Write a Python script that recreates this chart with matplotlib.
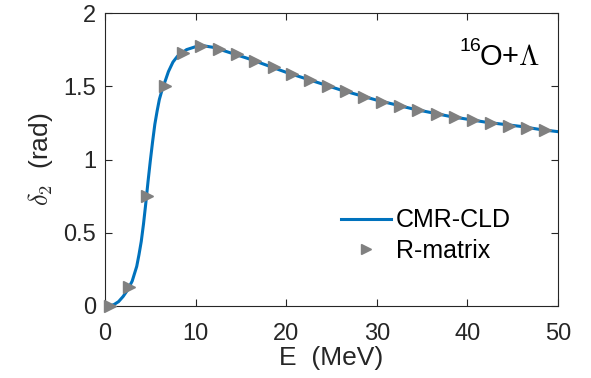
import matplotlib
matplotlib.use('Agg')
import matplotlib.pyplot as plt

plt.rcParams['font.family'] = ['Liberation Sans', 'DejaVu Sans']
plt.rcParams['mathtext.fontset'] = 'cm'

## Data

# CMR-CLD curve
E_line = [0, 0.5, 1, 1.5, 2, 2.5, 3, 3.5, 3.75, 4, 4.25, 4.5, 4.75, 5, 5.25,
          5.5, 5.75, 6, 6.25, 6.5, 7, 7.5, 8, 9, 10, 11, 12, 14, 16, 18, 20,
          22, 24, 26, 28, 30, 32, 34, 36, 38, 40, 42, 44, 46, 48, 50]
delta_line = [0.0, 0.0, 0.01, 0.03, 0.065, 0.11, 0.17, 0.27, 0.35, 0.44, 0.56,
              0.70, 0.85, 0.99, 1.12, 1.24, 1.33, 1.41, 1.465, 1.51, 1.60,
              1.665, 1.705, 1.75, 1.77, 1.775, 1.765, 1.725, 1.685, 1.64,
              1.595, 1.555, 1.515, 1.475, 1.44, 1.405, 1.375, 1.345, 1.32,
              1.295, 1.275, 1.255, 1.24, 1.225, 1.205, 1.19]

# R-matrix points
E_rm = [0.6, 2.6, 4.6, 6.6, 8.6, 10.6, 12.6, 14.6, 16.6, 18.6, 20.6, 22.6,
        24.6, 26.6, 28.6, 30.6, 32.6, 34.6, 36.6, 38.6, 40.6, 42.6, 44.6,
        46.6, 48.6]
delta_rm = [0.0, 0.13, 0.75, 1.50, 1.73, 1.775, 1.755, 1.72, 1.675, 1.63,
            1.585, 1.545, 1.505, 1.465, 1.43, 1.395, 1.365, 1.34, 1.31, 1.29,
            1.27, 1.25, 1.23, 1.215, 1.20]

xticks = [0, 10, 20, 30, 40, 50]
yticks = [0, 0.5, 1, 1.5, 2]
ytick_labels = ['0', '0.5', '1', '1.5', '2']

## Plot

dark = (0.15, 0.15, 0.15)
fig = plt.figure(figsize=(5.91, 3.78), dpi=100)
ax = fig.add_axes([105/591, 1 - 306/378, 453/591, 293/378])

ax.plot(E_line, delta_line, color='#0072BD', lw=2.2, label='CMR-CLD', zorder=2)
ax.plot(E_rm, delta_rm, ls='none', marker='>', ms=9, color='#808080',
        mec='#808080', label='R-matrix', zorder=3, clip_on=False)

ax.set_xlim(0, 50)
ax.set_ylim(0, 2)
ax.set_xticks(xticks)
ax.set_yticks(yticks)
ax.set_yticklabels(ytick_labels)
ax.tick_params(direction='in', top=True, right=True, length=5, width=0.8,
               labelsize=17, colors=dark)
ax.tick_params(axis='x', pad=12)
ax.tick_params(axis='y', pad=6.5)
for s in ax.spines.values():
    s.set_color(dark)
    s.set_linewidth(0.8)

ax.set_xlabel('E  (MeV)', fontsize=19, color=dark, labelpad=1)
ax.set_ylabel(r'$\delta_2$  (rad)', fontsize=19, color=dark, labelpad=6)

# label 16O+Lambda, superscript drawn as its own text
ax.text(0.782, 0.870, '16', transform=ax.transAxes, ha='left',
        va='baseline', fontsize=14, color='k')
ax.text(0.826, 0.822, r'O+$\Lambda$', transform=ax.transAxes, ha='left',
        va='baseline', fontsize=21, color='k')

leg = ax.legend(loc='center left', bbox_to_anchor=(0.521, 0.241),
                frameon=False, fontsize=18, handlelength=2.0,
                handletextpad=0.2, labelspacing=0.25, borderpad=0,
                borderaxespad=0, markerscale=0.75)

fig.savefig('out.png', dpi=100)
